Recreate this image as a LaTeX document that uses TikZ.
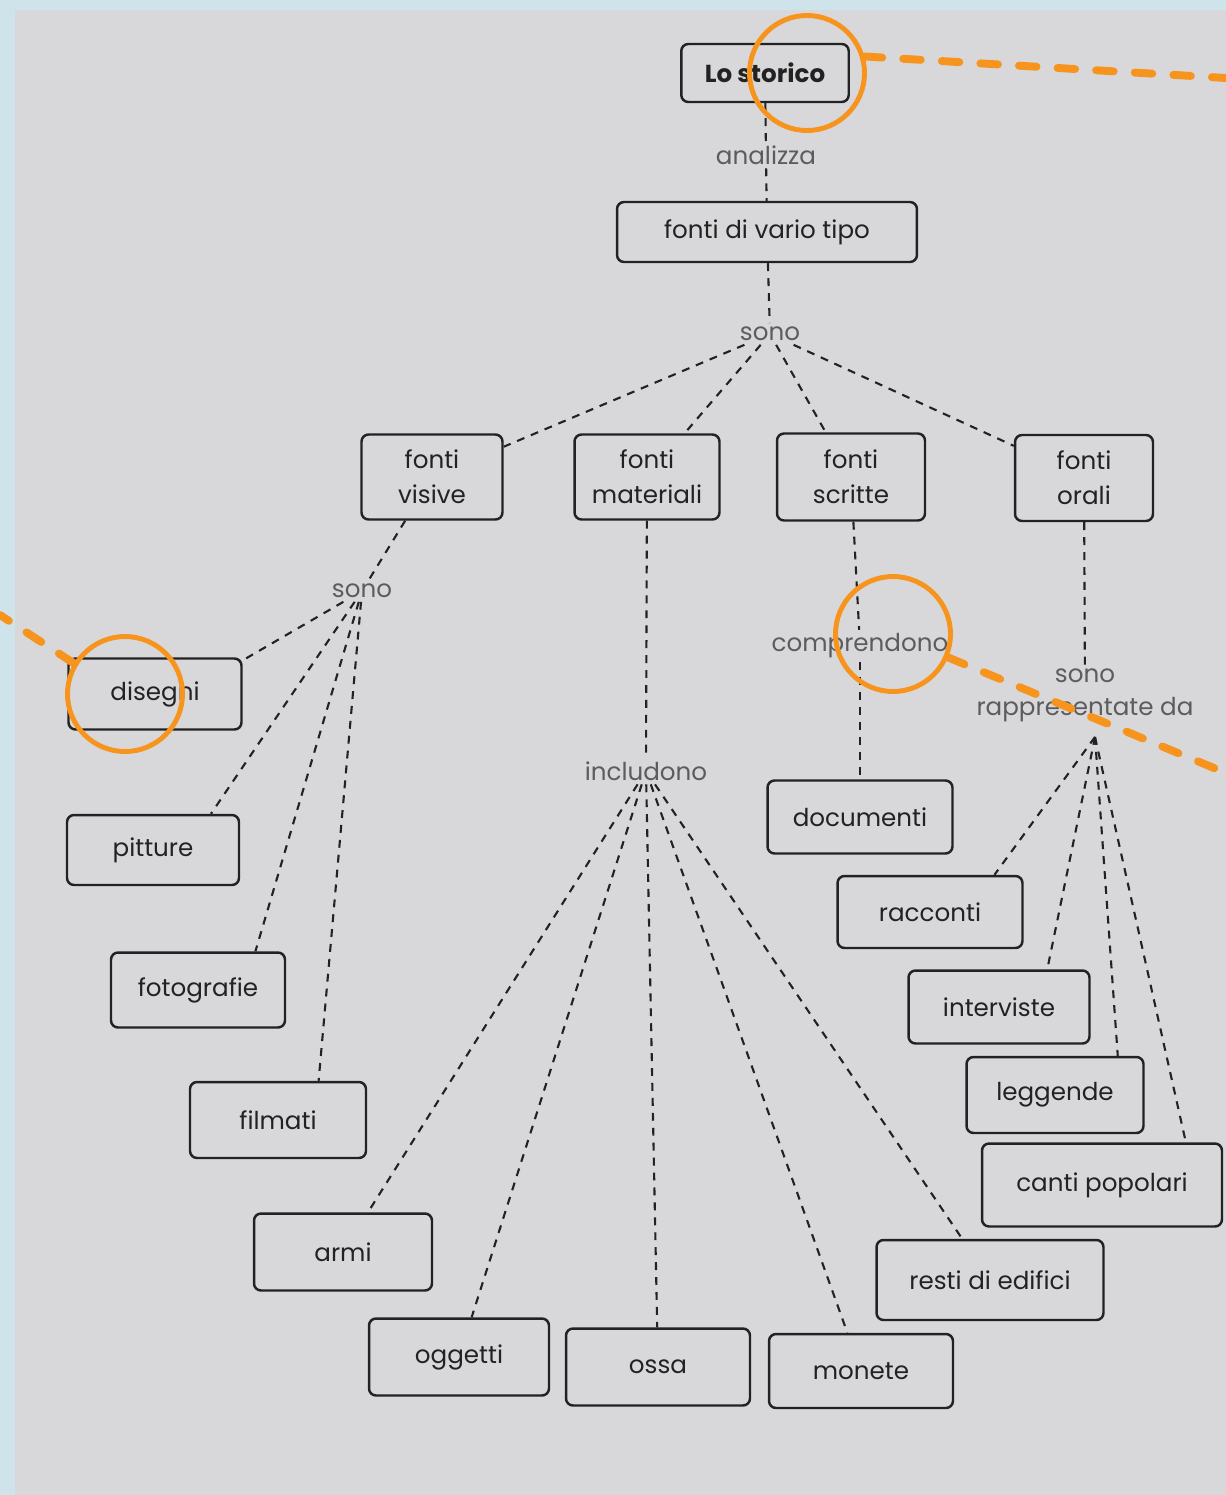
\documentclass[tikz,border=0pt]{standalone}
\usepackage{fontspec}
\setmainfont{Poppins}
\definecolor{page}{HTML}{D8D8DA}
\definecolor{frame}{HTML}{CFE3EA}
\definecolor{ink}{HTML}{222222}
\definecolor{lblgrey}{HTML}{5C5C5E}
\definecolor{marker}{HTML}{F7941D}
\tikzset{%
    box/.style={draw=ink, text=ink, line width=1.4pt, rounded corners=4pt, minimum width=3.6cm, minimum height=1.5cm, inner sep=2pt, align=center, font=\fontsize{14}{20}\selectfont},
    lbl/.style={text=lblgrey, inner sep=2pt, align=center, font=\fontsize{14}{18.7}\selectfont},
    lnk/.style={draw=ink, line width=1.2pt, dash pattern=on 4.5pt off 4pt},
    ring/.style={circle, draw=marker, line width=2.8pt, minimum size=2.3cm, inner sep=0pt},
    mrk/.style={draw=marker, line width=4.5pt, line cap=round, dash pattern=on 10pt off 12pt}
}
\begin{document}
\begin{tikzpicture}[x=0.02cm, y=-0.02cm]
        \fill[frame] (0,0) rectangle (1226,1495);
        \fill[page] (15,10) rectangle (1226,1495);
        \useasboundingbox (0,0) rectangle (1226,1495);
        \node[box, minimum width=3.35cm, minimum height=1.16cm, font=\fontsize{14}{20}\selectfont\bfseries] (st) at (765,73) {Lo storico};
        \node[lbl] (an) at (766,155) {analizza};
        \node[box, minimum width=6cm, minimum height=1.2cm] (vt) at (767,232) {fonti di vario tipo};
        \node[lbl] (so) at (770,334) {sono};
        \node[box, minimum width=2.82cm, minimum height=1.7cm] (vis) at (432,477) {fonti\\visive};
        \node[box, minimum width=2.9cm, minimum height=1.7cm] (mat) at (647,477) {fonti\\materiali};
        \node[box, minimum width=2.96cm, minimum height=1.74cm] (scr) at (851,477) {fonti\\scritte};
        \node[box, minimum width=2.76cm, minimum height=1.72cm] (ora) at (1084,478) {fonti\\orali};
        \node[lbl] (so2) at (362,591) {sono};
        \node[box, minimum width=3.46cm, minimum height=1.42cm] (dis) at (155,694) {disegni};
        \node[box, minimum width=3.44cm, minimum height=1.4cm] (pit) at (153,850) {pitture};
        \node[box, minimum width=3.48cm] (fot) at (198,990) {fotografie};
        \node[box, minimum width=3.52cm, minimum height=1.52cm] (fil) at (278,1120) {filmati};
        \node[lbl] (inc) at (646,771) {includono};
        \node[box, minimum width=3.56cm, minimum height=1.54cm] (arm) at (343,1252) {armi};
        \node[box, minimum height=1.54cm] (ogg) at (459,1357) {oggetti};
        \node[box, minimum width=3.68cm, minimum height=1.54cm] (oss) at (658,1367) {ossa};
        \node[box, minimum width=3.68cm, minimum height=1.48cm] (mon) at (861,1371) {monete};
        \node[box, minimum width=4.54cm, minimum height=1.6cm] (res) at (990,1280) {resti di edifici};
        \node[lbl] (com) at (860,646) {comprendono};
        \node[box, minimum width=3.7cm, minimum height=1.46cm] (doc) at (860,817) {documenti};
        \node[lbl] (rap) at (1085,695) {sono\\rappresentate da};
        \coordinate (fan) at (1095,737);
        \node[box, minimum width=3.7cm, minimum height=1.44cm] (rac) at (930,912) {racconti};
        \node[box, minimum width=3.62cm, minimum height=1.46cm] (int) at (999,1007) {interviste};
        \node[box, minimum width=3.54cm, minimum height=1.52cm] (leg) at (1055,1095) {leggende};
        \node[box, minimum width=4.8cm, minimum height=1.66cm] (can) at (1102,1185) {canti popolari};
        \path[every edge/.style={lnk}]
            (st) edge (an) (an) edge (vt) (vt) edge (so)
            (so) edge (vis) (so) edge (mat) (so) edge (scr) (so) edge (ora)
            (vis) edge (so2)
            (so2) edge (dis.21) (so2) edge (pit.32) (so2) edge (fot.34) (so2) edge (fil.44)
            (mat) edge (inc)
            (inc) edge (arm) (inc) edge (ogg) (inc) edge (oss) (inc) edge (mon) (inc) edge (res)
            (scr) edge (com) (com) edge (doc)
            (ora) edge (rap)
            (fan) edge (rac.30) (fan) edge (int.38) (fan) edge (leg.32) (fan) edge (can.27);
        \node[ring] (r1) at (807,73) {};
        \node[ring] (r2) at (893,634) {};
        \node[ring] (r3) at (125,694) {};
        \coordinate (e1) at (1226,78);
        \coordinate (e2) at (1226,773);
        \coordinate (e3) at (0,615);
        \draw[mrk] (r1.16) -- (e1);
        \draw[mrk] (r2.-23) -- (e2);
        \draw[mrk] (r3.149) -- (e3);
\end{tikzpicture}
\end{document}
